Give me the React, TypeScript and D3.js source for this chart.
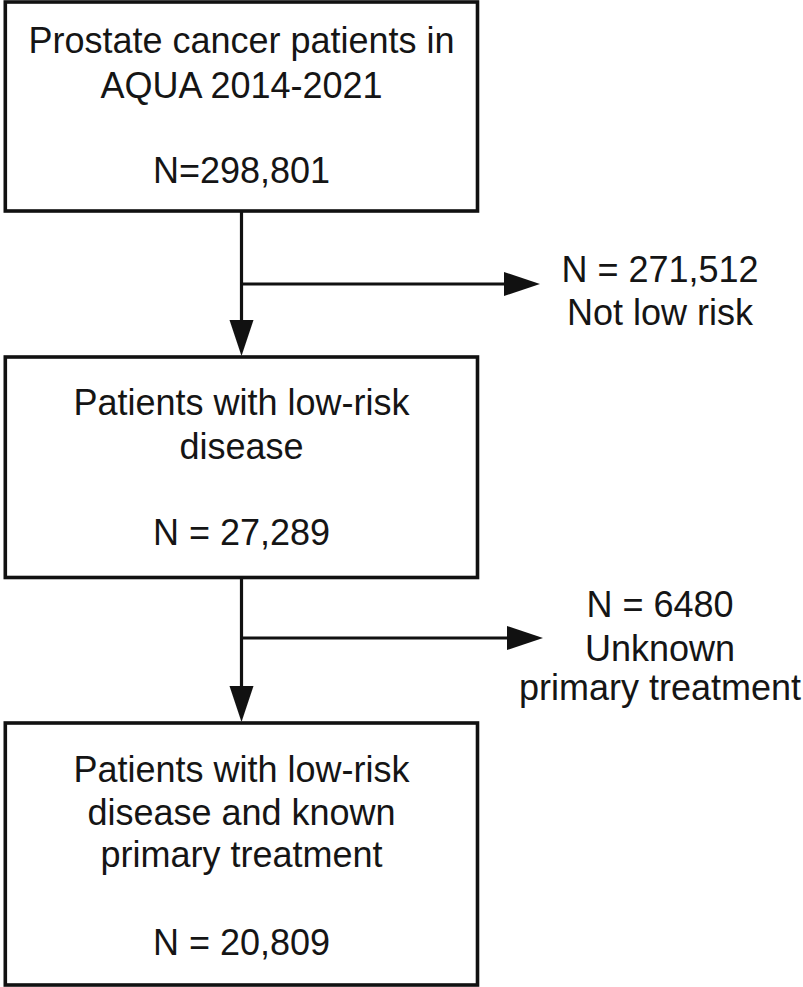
import React from "react";
import * as d3 from "d3";

// ---- data (text content of the flow diagram) ----
const boxTitles: string[][] = [
  ["Prostate cancer patients in", "AQUA 2014-2021"],
  ["Patients with low-risk", "disease"],
  ["Patients with low-risk", "disease and known", "primary treatment"],
];
const boxCounts: string[] = ["N=298,801", "N = 27,289", "N = 20,809"];
const exclusionCounts: string[] = ["N = 271,512", "N = 6480"];
const exclusionLabels: string[][] = [["Not low risk"], ["Unknown", "primary treatment"]];

// ---- layout ----
const W = 803;
const H = 987;
const FONT = "'Liberation Sans', Arial, Helvetica, sans-serif";
const FS = 36;
const boxX0 = 5.3;
const boxX1 = 477.5;
const boxTops = [2, 357, 723];
const boxBottoms = [211, 577.5, 985];
const titleBaselines = [[53, 98], [415, 459], [782, 825, 867]];
const countBaselines = [183, 545, 955];
const stemX = 241.5;
const branchY = [284, 638];
const branchTipX = [540, 543];
const exclCenterX = 660;
const exclBaselines = [[282, 325], [617, 661, 700]];
const headLen = 36;
const headHalf = 12;

function arrowHead(tipX: number, tipY: number, dir: "right" | "down"): string {
  const p = d3.path();
  if (dir === "right") {
    p.moveTo(tipX, tipY);
    p.lineTo(tipX - headLen, tipY - headHalf);
    p.lineTo(tipX - headLen, tipY + headHalf);
  } else {
    p.moveTo(tipX, tipY);
    p.lineTo(tipX - headHalf, tipY - headLen);
    p.lineTo(tipX + headHalf, tipY - headLen);
  }
  p.closePath();
  return p.toString();
}

export default function App() {
  const textStyle = { fontFamily: FONT, fontSize: FS, fill: "#151515" } as const;
  return (
    <svg
      width={W}
      height={H}
      viewBox={`0 0 ${W} ${H}`}
      style={{ position: "absolute", left: 0, top: 0, background: "#fff", display: "block" }}
    >
      <rect x={0} y={0} width={W} height={H} fill="#fff" />
      {boxTitles.map((lines, i) => (
        <g key={"box" + i}>
          <rect
            x={boxX0}
            y={boxTops[i]}
            width={boxX1 - boxX0}
            height={boxBottoms[i] - boxTops[i]}
            fill="#fff"
            stroke="#111"
            strokeWidth={3.6}
          />
          {lines.map((t, j) => (
            <text key={j} x={stemX} y={titleBaselines[i][j]} textAnchor="middle" style={textStyle}>
              {t}
            </text>
          ))}
          <text x={stemX} y={countBaselines[i]} textAnchor="middle" style={textStyle}>
            {boxCounts[i]}
          </text>
        </g>
      ))}
      {exclusionCounts.map((c, i) => {
        const yStart = boxBottoms[i];
        const tipY = boxTops[i + 1];
        return (
          <g key={"ex" + i}>
            <line x1={stemX} y1={yStart} x2={stemX} y2={tipY - headLen + 1} stroke="#111" strokeWidth={3.2} />
            <path d={arrowHead(stemX, tipY - 1, "down")} fill="#111" />
            <line x1={stemX} y1={branchY[i]} x2={branchTipX[i] - headLen + 1} y2={branchY[i]} stroke="#111" strokeWidth={3.2} />
            <path d={arrowHead(branchTipX[i], branchY[i], "right")} fill="#111" />
            <text x={exclCenterX} y={exclBaselines[i][0]} textAnchor="middle" style={textStyle}>
              {c}
            </text>
            {exclusionLabels[i].map((t, j) => (
              <text key={j} x={exclCenterX} y={exclBaselines[i][j + 1]} textAnchor="middle" style={textStyle}>
                {t}
              </text>
            ))}
          </g>
        );
      })}
    </svg>
  );
}
